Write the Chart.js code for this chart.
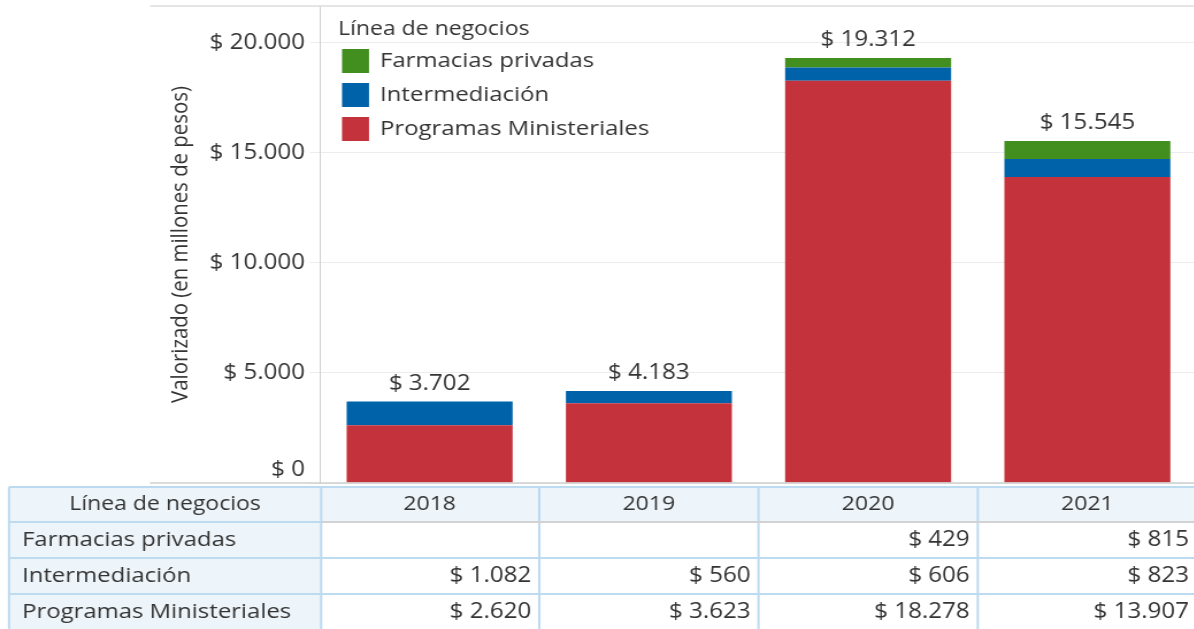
<!DOCTYPE html>
<html lang="es">
<head>
<meta charset="utf-8">
<script src="https://cdn.jsdelivr.net/npm/chart.js@4.4.1/dist/chart.umd.min.js"></script>
<style>
  html, body { margin: 0; padding: 0; background: #fff; overflow: hidden; }
  #grafico { display: block; }
</style>
</head>
<body>
<!-- el lienzo se estira en horizontal como la imagen original -->
<canvas id="grafico" width="1041" height="629" style="width:1197px;height:629px"></canvas>
<script>
// datos
const anos = ['2018', '2019', '2020', '2021'];
const farmacias = [null, null, 429, 815];
const intermediacion = [1082, 560, 606, 823];
const programas = [2620, 3623, 18278, 13907];
const totales = [3702, 4183, 19312, 15545];
const ticks_y = [0, 5000, 10000, 15000, 20000];
const titulo_leyenda = 'Línea de negocios';
const titulo_eje = 'Valorizado (en millones de pesos)';

const SX = 1197 / 1041; // estiramiento horizontal
const FUENTE = '"Open Sans", "Noto Sans", sans-serif';
const TEXTO = '#333333';

function fmt(v) {
  return '$ ' + String(v).replace(/\B(?=(\d{3})+(?!\d))/g, '.');
}

// leyenda dentro del área del gráfico
const leyenda = {
  id: 'leyenda',
  afterDraw(chart) {
    const ctx = chart.ctx;
    ctx.save();
    ctx.font = '20px ' + FUENTE;
    ctx.fillStyle = TEXTO;
    ctx.textAlign = 'left';
    ctx.textBaseline = 'middle';
    ctx.fillText(titulo_leyenda, 338 / SX, 29);
    ctx.font = '20.8px ' + FUENTE;
    const ds = chart.data.datasets.slice().reverse();
    ds.forEach((d, i) => {
      const yc = 61 + i * 34;
      ctx.fillStyle = d.backgroundColor;
      ctx.fillRect(342 / SX, yc - 12, 27 / SX, 24);
      ctx.fillStyle = TEXTO;
      ctx.fillText(d.label, 380 / SX, yc);
    });
    ctx.restore();
  }
};

// totales encima de cada barra
const totalesBarras = {
  id: 'totales',
  afterDatasetsDraw(chart) {
    const ctx = chart.ctx, x = chart.scales.x, y = chart.scales.y;
    ctx.save();
    ctx.font = '21px ' + FUENTE;
    ctx.fillStyle = TEXTO;
    ctx.textAlign = 'center';
    ctx.textBaseline = 'middle';
    anos.forEach((a, i) => {
      const suma = (farmacias[i] || 0) + (intermediacion[i] || 0) + (programas[i] || 0);
      ctx.fillText(fmt(totales[i]), x.getPixelForValue(i), y.getPixelForValue(suma) - 18);
    });
    ctx.restore();
  }
};

// líneas de borde y tabla de datos bajo el gráfico
const tabla = {
  id: 'tabla',
  beforeDatasetsDraw(chart) {
    const ctx = chart.ctx, area = chart.chartArea;
    ctx.save();
    ctx.strokeStyle = '#dcdcdc';
    ctx.lineWidth = 1.5;
    ctx.beginPath();
    ctx.moveTo(150 / SX, area.top);
    ctx.lineTo(chart.width, area.top);
    ctx.stroke();
    ctx.restore();
  },
  afterDraw(chart) {
    const ctx = chart.ctx, area = chart.chartArea, x = chart.scales.x;
    const mitad = (x.getPixelForValue(1) - x.getPixelForValue(0)) / 2;
    const filasY = [487, 522, 558, 594, 630];
    const izq = 9 / SX, col1 = area.left + 1;
    const bordes = [izq, col1].concat(anos.map((a, i) => x.getPixelForValue(i) + mitad));
    const filas = [
      ['Farmacias privadas', farmacias],
      ['Intermediación', intermediacion],
      ['Programas Ministeriales', programas]
    ];

    ctx.save();
    // línea base
    ctx.strokeStyle = '#cfcfcf';
    ctx.lineWidth = 1.5;
    ctx.beginPath();
    ctx.moveTo(150 / SX, area.bottom);
    ctx.lineTo(chart.width, area.bottom);
    ctx.stroke();

    // fondos
    ctx.fillStyle = '#eef5fa';
    ctx.fillRect(izq, filasY[0], chart.width - izq, filasY[1] - filasY[0]);
    ctx.fillRect(izq, filasY[1], col1 - izq, filasY[4] - filasY[1]);

    // bordes
    ctx.strokeStyle = '#bcdaf0';
    ctx.lineWidth = 2;
    ctx.beginPath();
    [0, 2, 3].forEach(k => { ctx.moveTo(izq, filasY[k]); ctx.lineTo(chart.width, filasY[k]); });
    bordes.forEach(b => { ctx.moveTo(b, filasY[0]); ctx.lineTo(b, filasY[4]); });
    ctx.stroke();
    ctx.strokeStyle = '#d2d2d2';
    ctx.beginPath();
    ctx.moveTo(col1, filasY[1]); ctx.lineTo(chart.width, filasY[1]);
    ctx.stroke();
    ctx.strokeStyle = '#bcdaf0';
    ctx.beginPath();
    ctx.moveTo(izq, filasY[1]); ctx.lineTo(col1, filasY[1]);
    ctx.stroke();

    // textos
    ctx.font = '20px ' + FUENTE;
    ctx.fillStyle = TEXTO;
    ctx.textBaseline = 'middle';
    const yh = (filasY[0] + filasY[1]) / 2;
    ctx.textAlign = 'center';
    ctx.fillText(titulo_leyenda, (izq + col1) / 2, yh);
    anos.forEach((a, i) => ctx.fillText(a, x.getPixelForValue(i), yh));

    filas.forEach((f, r) => {
      const yc = (filasY[r + 1] + filasY[r + 2]) / 2;
      ctx.font = '20.8px ' + FUENTE;
      ctx.textAlign = 'left';
      ctx.fillText(f[0], 22 / SX, yc);
      ctx.font = '21px ' + FUENTE;
      ctx.textAlign = 'right';
      f[1].forEach((v, i) => {
        if (v !== null) ctx.fillText(fmt(v), x.getPixelForValue(i) + mitad - 8 / SX, yc);
      });
    });
    ctx.restore();
  }
};

const dados = {
  labels: anos,
  datasets: [
    { label: 'Programas Ministeriales', data: programas, backgroundColor: '#c4323c' },
    { label: 'Intermediación', data: intermediacion, backgroundColor: '#0063a9' },
    { label: 'Farmacias privadas', data: farmacias, backgroundColor: '#428e1f' }
  ]
};

new Chart(document.getElementById('grafico'), {
  type: 'bar',
  data: dados,
  plugins: [tabla, totalesBarras, leyenda],
  options: {
    responsive: false,
    animation: false,
    events: [],
    layout: { padding: { left: 0, right: 0, top: 6, bottom: 629 - 483 } },
    datasets: {
      bar: { barPercentage: 0.757, categoryPercentage: 1, borderWidth: 0 }
    },
    plugins: {
      legend: { display: false },
      tooltip: { enabled: false }
    },
    scales: {
      x: {
        stacked: true,
        display: false
      },
      y: {
        stacked: true,
        min: 0,
        max: 21680,
        afterBuildTicks(s) {
          s.ticks = ticks_y.map(v => ({ value: v }));
        },
        afterFit(s) {
          s.width = 320 / SX;
          s.paddingTop = 0;
          s.paddingBottom = 0;
        },
        ticks: {
          padding: 4.3,
          color: TEXTO,
          font: { family: FUENTE, size: 21 },
          callback: v => v === 0 ? [fmt(0), ''] : fmt(v)
        },
        grid: {
          color: '#ececec',
          tickColor: '#ececec',
          tickLength: 10 / SX,
          drawTicks: true
        },
        border: { color: '#cfcfcf', width: 1 },
        title: {
          display: true,
          text: titulo_eje,
          color: TEXTO,
          font: { family: FUENTE, size: 20.4 },
          padding: { top: 181 / SX - 12, bottom: 0 }
        }
      }
    }
  }
});
</script>
</body>
</html>
